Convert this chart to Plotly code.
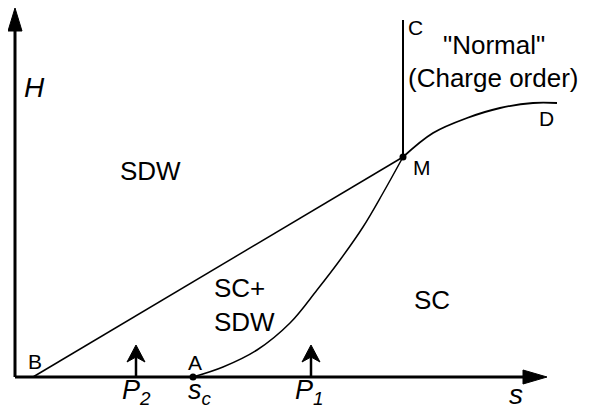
import plotly.graph_objects as go

# Phase-diagram data (s, H)
bm_s = [0.18, 3.88]          # B -> M straight boundary
bm_h = [0.00, 2.20]
am_s = [1.78, 2.08, 2.42, 2.75, 3.02, 3.25, 3.48, 3.68, 3.88]   # A -> M curve
am_h = [0.00, 0.10, 0.27, 0.54, 0.87, 1.17, 1.50, 1.84, 2.20]
md_s = [3.88, 4.18, 4.52, 4.85, 5.18, 5.42]                     # M -> D curve
md_h = [2.20, 2.44, 2.59, 2.69, 2.74, 2.74]
mc_s = [3.88, 3.88]          # M -> C vertical line
mc_h = [2.20, 3.57]
point_s = [1.78, 3.88]       # A and M dots
point_h = [0.00, 2.20]
s_axis_end = 5.32
h_axis_end = 3.69
p_arrows_s = [1.21, 2.96]    # P2, P1 arrows
p_arrow_top = 0.32

fig = go.Figure()
black = "black"
font = "Liberation Sans, Arial, sans-serif"

def line(xs, ys, w, shape="linear"):
    fig.add_trace(go.Scatter(x=xs, y=ys, mode="lines",
                             line=dict(color=black, width=w, shape=shape, smoothing=1.0),
                             hoverinfo="skip", showlegend=False))

def poly(xs, ys):
    fig.add_trace(go.Scatter(x=xs, y=ys, mode="lines", fill="toself", fillcolor=black,
                             line=dict(color=black, width=1), hoverinfo="skip", showlegend=False))

# axes
line([0, s_axis_end - 0.2], [0, 0], 3)
line([0, 0], [0, h_axis_end - 0.2], 3)
poly([s_axis_end - 0.24, s_axis_end, s_axis_end - 0.24, s_axis_end - 0.24],
     [0.07, 0, -0.07, 0.07])
poly([-0.07, 0, 0.07, -0.07],
     [h_axis_end - 0.23, h_axis_end, h_axis_end - 0.23, h_axis_end - 0.23])

# boundaries
line(bm_s, bm_h, 1.5)
line(am_s, am_h, 1.5, "spline")
line(md_s, md_h, 1.8, "spline")
line(mc_s, mc_h, 2)

# dots
fig.add_trace(go.Scatter(x=point_s, y=point_h, mode="markers",
                         marker=dict(color=black, size=7), hoverinfo="skip", showlegend=False))

# P arrows
for ps in p_arrows_s:
    line([ps, ps], [0, p_arrow_top - 0.1], 2.5)
    poly([ps - 0.09, ps, ps + 0.09, ps, ps - 0.09],
         [p_arrow_top - 0.17, p_arrow_top, p_arrow_top - 0.17, p_arrow_top - 0.12, p_arrow_top - 0.17])

def txt(x, y, t, size, xanchor="center"):
    fig.add_annotation(x=x, y=y, text=t, showarrow=False, xanchor=xanchor, yanchor="middle",
                       borderpad=0, font=dict(family=font, size=size, color=black))

txt(0.19, 2.90, "<i>H</i>", 28)
txt(1.35, 2.06, "SDW", 26)
txt(1.98, 0.89, "SC+", 26, "left")
txt(1.98, 0.55, "SDW", 26, "left")
txt(4.17, 0.77, "SC", 26)
txt(4.79, 3.32, "\"Normal\"", 26)
txt(4.78, 2.99, "(Charge order)", 26)
txt(4.00, 3.50, "C", 21)
txt(5.31, 2.59, "D", 21)
txt(4.07, 2.10, "M", 21)
txt(0.20, 0.16, "B", 21)
txt(1.80, 0.15, "A", 21)
txt(1.21, -0.15, "<i>P<sub>2</sub></i>", 27)
txt(1.85, -0.145, "<i>s<sub>c</sub></i>", 27)
txt(2.94, -0.15, "<i>P<sub>1</sub></i>", 27)
txt(5.01, -0.17, "<i>s</i>", 28)

# The page body adds an 8px offset, so the figure is 8px smaller and the ranges start accordingly
fig.update_layout(
    width=582, height=401,
    margin=dict(l=0, r=0, t=0, b=0),
    paper_bgcolor="white", plot_bgcolor="white",
    xaxis=dict(range=[-0.07, 5.75], visible=False, fixedrange=True),
    yaxis=dict(range=[-0.32, 3.69], visible=False, fixedrange=True),
    showlegend=False,
)
fig.write_html("out.html")
